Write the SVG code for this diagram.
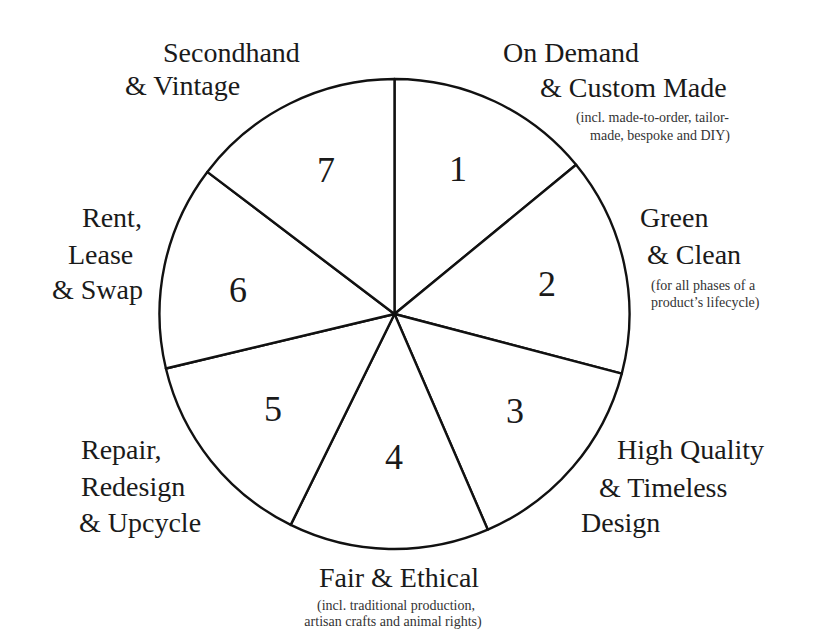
<svg xmlns="http://www.w3.org/2000/svg" width="818" height="640" viewBox="0 0 818 640">
<style>
  .wedge { fill: #ffffff; stroke: #111111; stroke-width: 2.4; stroke-linejoin: round; }
  .num { font-family: "Liberation Serif", "Times New Roman", serif; font-size: 36px; fill: #1a1a1a; text-anchor: middle; }
  .lbl { font-family: "Liberation Serif", "Times New Roman", serif; font-size: 28px; fill: #1a1a1a; }
  .sub { font-family: "Liberation Serif", "Times New Roman", serif; font-size: 14px; fill: #333333; }
</style>
<rect x="0" y="0" width="818" height="640" fill="#ffffff"/>

<g id="sector-1">
  <path class="wedge" d="M394.5 314 L394.5 79 A235 235 0 0 1 576.1 164.8 Z"/>
  <text class="num" x="458" y="181">1</text>
  <text class="lbl" x="503" y="62">On Demand</text>
  <text class="lbl" x="540" y="97">&amp; Custom Made</text>
  <text class="sub" x="729" y="122" text-anchor="end">(incl. made-to-order, tailor-</text>
  <text class="sub" x="730" y="140" text-anchor="end">made, bespoke and DIY)</text>
</g>

<g id="sector-2">
  <path class="wedge" d="M394.5 314 L576.1 164.8 A235 235 0 0 1 621.8 373.6 Z"/>
  <text class="num" x="547" y="296">2</text>
  <text class="lbl" x="640" y="227">Green</text>
  <text class="lbl" x="647" y="264">&amp; Clean</text>
  <text class="sub" x="651" y="290">(for all phases of a</text>
  <text class="sub" x="651" y="307">product’s lifecycle)</text>
</g>

<g id="sector-3">
  <path class="wedge" d="M394.5 314 L621.8 373.6 A235 235 0 0 1 487.8 529.7 Z"/>
  <text class="num" x="515" y="423">3</text>
  <text class="lbl" x="617" y="459">High Quality</text>
  <text class="lbl" x="599" y="497">&amp; Timeless</text>
  <text class="lbl" x="581" y="532">Design</text>
</g>

<g id="sector-4">
  <path class="wedge" d="M394.5 314 L487.8 529.7 A235 235 0 0 1 290.7 524.9 Z"/>
  <text class="num" x="394" y="469">4</text>
  <text class="lbl" x="399" y="587" text-anchor="middle">Fair &amp; Ethical</text>
  <text class="sub" x="396" y="610" text-anchor="middle">(incl. traditional production,</text>
  <text class="sub" x="393" y="626" text-anchor="middle">artisan crafts and animal rights)</text>
</g>

<g id="sector-5">
  <path class="wedge" d="M394.5 314 L290.7 524.9 A235 235 0 0 1 165.9 368.5 Z"/>
  <text class="num" x="273" y="421">5</text>
  <text class="lbl" x="81" y="459">Repair,</text>
  <text class="lbl" x="81" y="496">Redesign</text>
  <text class="lbl" x="79" y="532">&amp; Upcycle</text>
</g>

<g id="sector-6">
  <path class="wedge" d="M394.5 314 L165.9 368.5 A235 235 0 0 1 207.3 171.9 Z"/>
  <text class="num" x="238" y="302">6</text>
  <text class="lbl" x="82" y="227">Rent,</text>
  <text class="lbl" x="68" y="264">Lease</text>
  <text class="lbl" x="52" y="299">&amp; Swap</text>
</g>

<g id="sector-7">
  <path class="wedge" d="M394.5 314 L207.3 171.9 A235 235 0 0 1 394.5 79 Z"/>
  <text class="num" x="326" y="182">7</text>
  <text class="lbl" x="163" y="62">Secondhand</text>
  <text class="lbl" x="125" y="95">&amp; Vintage</text>
</g>
</svg>
